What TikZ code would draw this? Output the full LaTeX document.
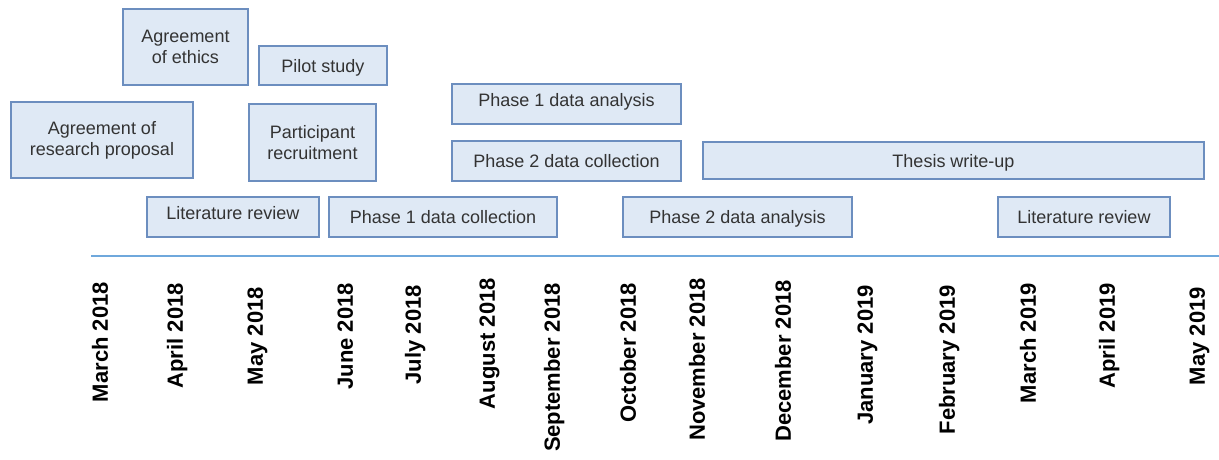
\documentclass[tikz,border=0pt]{standalone}
\usepackage{fontspec}
\setmainfont{Liberation Sans}
\definecolor{boxfill}{HTML}{DFE9F5}
\definecolor{boxdraw}{HTML}{6C8EBF}
\definecolor{boxtext}{HTML}{333333}
\definecolor{axisblue}{HTML}{6FA8DC}
\begin{document}
\begin{tikzpicture}[x=1pt,y=-1pt,
  task/.style={draw=boxdraw, fill=boxfill, line width=1.5pt, text=boxtext,
    font=\fontsize{18}{21}\selectfont, inner sep=0pt, align=center},
  onetask/.style={task, text height=13pt, text depth=0pt},
  uptask/.style={task, text height=13pt, text depth=8pt},
  month/.style={rotate=90, anchor=east, inner sep=0pt,
    font=\bfseries\fontsize{22}{26}\selectfont, text height=15.8pt, text depth=0pt}]
\useasboundingbox (0,0) rectangle (1219,459);

% tasks
\node[task, minimum width=125pt, minimum height=76pt] (ethics) at (185.5,47) {Agreement\\of ethics};
\node[onetask, minimum width=128pt, minimum height=39pt] (pilot) at (323,65.5) {Pilot study};
\node[task, minimum width=182pt, minimum height=76pt] (proposal) at (102,140) {Agreement of\\research proposal};
\node[task, minimum width=127pt, minimum height=77pt] (recruit) at (312.5,142.5) {Participant\\recruitment};
\node[uptask, minimum width=172pt, minimum height=40pt] (lit1) at (233,217) {Literature review};
\node[onetask, minimum width=228pt, minimum height=40pt] (p1coll) at (443,217) {Phase 1 data collection};
\node[uptask, minimum width=229pt, minimum height=40pt] (p1an) at (566.5,104) {Phase 1 data analysis};
\node[onetask, minimum width=229pt, minimum height=40pt] (p2coll) at (566.5,161) {Phase 2 data collection};
\node[onetask, minimum width=229pt, minimum height=40pt] (p2an) at (737.5,217) {Phase 2 data analysis};
\node[onetask, minimum width=501pt, minimum height=37pt] (thesis) at (953.5,160.5) {Thesis write-up};
\node[onetask, minimum width=172pt, minimum height=40pt] (lit2) at (1084,217) {Literature review};

% timeline
\coordinate (tl0) at (91,256);
\coordinate (tl1) at (1219,256);
\draw[axisblue, line width=1.8pt] (tl0) -- (tl1);

% months
\node[month] (m1) at (100,282) {March 2018};
\node[month] (m2) at (175,283) {April 2018};
\node[month] (m3) at (255,287) {May 2018};
\node[month] (m4) at (345,283) {June 2018};
\node[month] (m5) at (413,285) {July 2018};
\node[month] (m6) at (487,278) {August 2018};
\node[month] (m7) at (552,283) {September 2018};
\node[month] (m8) at (628,283) {October 2018};
\node[month] (m9) at (697,278) {November 2018};
\node[month] (m10) at (783,280) {December 2018};
\node[month] (m11) at (865,285) {January 2019};
\node[month] (m12) at (947,285) {February 2019};
\node[month] (m13) at (1028,283) {March 2019};
\node[month] (m14) at (1107,283) {April 2019};
\node[month] (m15) at (1197,287) {May 2019};
\end{tikzpicture}
\end{document}
